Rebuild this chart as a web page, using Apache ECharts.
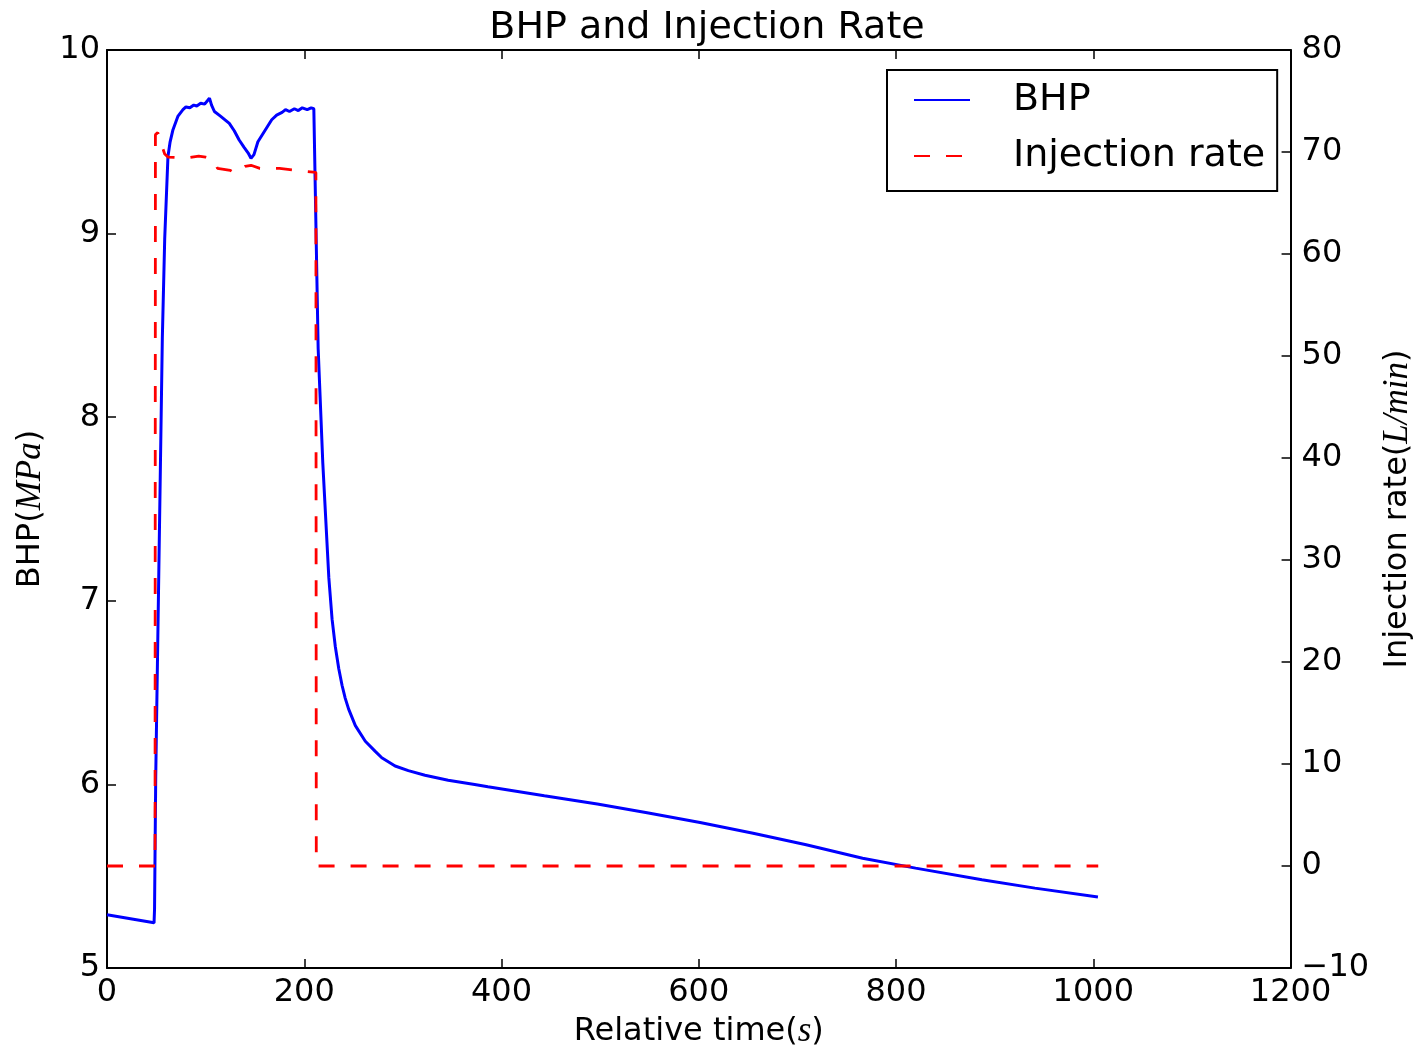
<!DOCTYPE html>
<html>
<head>
<meta charset="utf-8">
<script src="https://cdn.jsdelivr.net/npm/echarts@6/dist/echarts.min.js"></script>
<style>
html,body{margin:0;padding:0;background:#fff;overflow:hidden;}
#chart{width:1423px;height:1054px;}
</style>
</head>
<body>
<div id="chart"></div>
<script>
// BHP (MPa) vs relative time (s)
const bhpTime = [0, 47.7, 48.2, 49.4, 56.1, 58.5, 61.8, 64, 66.9, 72, 77, 80, 84, 88, 91, 95, 99, 102, 103.9, 106, 108.9, 115, 124, 129, 134, 139, 143, 146, 149, 153, 160, 167, 172, 177.5, 181, 185, 190, 194, 198, 203, 207, 209.7, 210.5, 214.1, 218.8, 224.9, 228.2, 231.5, 235, 238.3, 241.5, 245, 251.8, 261.9, 272, 278.6, 292.1, 305.5, 322.4, 345.9, 372.8, 386.2, 443.4, 497.1, 547.6, 601.3, 655.1, 708.9, 766.1, 819.8, 887.1, 940.8, 1004.7];
const bhpValue = [5.29, 5.246, 5.32, 6.04, 8.43, 8.97, 9.42, 9.5, 9.566, 9.64, 9.675, 9.69, 9.685, 9.70, 9.695, 9.71, 9.705, 9.725, 9.738, 9.70, 9.665, 9.64, 9.60, 9.56, 9.51, 9.47, 9.44, 9.41, 9.43, 9.50, 9.56, 9.62, 9.645, 9.66, 9.675, 9.665, 9.68, 9.67, 9.685, 9.675, 9.685, 9.68, 9.675, 8.373, 7.75, 7.126, 6.90, 6.75, 6.63, 6.54, 6.47, 6.41, 6.32, 6.235, 6.18, 6.145, 6.10, 6.075, 6.05, 6.023, 6.0, 5.987, 5.938, 5.893, 5.846, 5.792, 5.734, 5.671, 5.598, 5.544, 5.481, 5.435, 5.387];
// Injection rate (L/min) vs relative time (s)
const rateTime = [0, 48.7, 49.1, 51.5, 55, 58.5, 62, 80, 93, 100, 108, 112, 125, 130, 140, 146, 155, 175, 200, 211.8, 212.2, 1005];
const rateValue = [0, 0, 71.7, 71.9, 70.8, 69.8, 69.5, 69.4, 69.6, 69.5, 69.3, 68.4, 68.2, 67.9, 68.6, 68.7, 68.4, 68.4, 68.1, 68.0, 0, 0];

const xTicks = {min: 0, max: 1200, interval: 200};
const bhpTicks = {min: 5, max: 10, interval: 1};
const rateTicks = {min: -10, max: 80, interval: 10};

const FONT = 'DejaVu Sans';
const ital = {fontFamily: 'Liberation Serif', fontStyle: 'italic', fontSize: 35, color: '#000'};
const axisLine = {show: true, onZero: false, lineStyle: {color: '#000', width: 2}};
const tick = {show: true, inside: true, length: 9, lineStyle: {color: '#000', width: 1.5}};
const labelStyle = {color: '#000', fontSize: 32, fontFamily: FONT};
const plainFmt = v => String(v).replace('-', '\u2212');

const chart = echarts.init(document.getElementById('chart'), null, {renderer: 'canvas', width: 1423, height: 1054});
chart.setOption({
  animation: false,
  backgroundColor: '#fff',
  title: {
    text: 'BHP and Injection Rate',
    left: 702, top: 4, textAlign: 'center',
    textStyle: {fontFamily: FONT, fontSize: 38, fontWeight: 'normal', color: '#000'}
  },
  grid: {left: 107, top: 50, width: 1190, height: 922, containLabel: false},
  legend: {
    left: 887, top: 70, orient: 'vertical',
    padding: [10, 12, 15, 26],
    borderColor: '#000', borderWidth: 2, backgroundColor: '#fff',
    itemWidth: 56, itemHeight: 20, itemGap: 16,
    itemStyle: {opacity: 0},
    textStyle: {fontFamily: FONT, fontSize: 38, color: '#000', lineHeight: 40, padding: [0, 0, 0, 38]},
    data: ['BHP', 'Injection rate']
  },
  xAxis: [{
    type: 'value', ...xTicks,
    name: 'Relative time({i|s})', nameLocation: 'middle', nameGap: 46,
    nameTextStyle: {fontFamily: FONT, fontSize: 32, color: '#000', rich: {i: ital}},
    axisLine, axisTick: tick, splitLine: {show: false},
    axisLabel: {...labelStyle, margin: 9, formatter: plainFmt}
  }, {
    type: 'value', position: 'top', ...xTicks,
    axisLine, axisTick: tick, splitLine: {show: false},
    axisLabel: {show: false}
  }],
  yAxis: [{
    type: 'value', position: 'left', ...bhpTicks,
    name: 'BHP({i|MPa})', nameLocation: 'middle', nameGap: 57, nameRotate: 90,
    nameTextStyle: {fontFamily: FONT, fontSize: 32, color: '#000', rich: {i: ital}},
    axisLine, axisTick: tick, splitLine: {show: false},
    axisLabel: {...labelStyle, margin: 7, formatter: plainFmt}
  }, {
    type: 'value', position: 'right', ...rateTicks,
    name: 'Injection rate({i|L/min})', nameLocation: 'middle', nameGap: 85, nameRotate: 90,
    nameTextStyle: {fontFamily: FONT, fontSize: 32, color: '#000', rich: {i: ital}},
    axisLine, axisTick: tick, splitLine: {show: false},
    axisLabel: {...labelStyle, margin: 11, formatter: plainFmt}
  }],
  series: [{
    name: 'BHP', type: 'line', xAxisIndex: 0, yAxisIndex: 0,
    data: bhpTime.map((t, i) => [t, bhpValue[i]]),
    symbol: 'none', smooth: false,
    lineStyle: {color: '#0000ff', width: 3},
    itemStyle: {color: '#0000ff'}
  }, {
    name: 'Injection rate', type: 'line', xAxisIndex: 0, yAxisIndex: 1,
    data: rateTime.map((t, i) => [t, rateValue[i]]),
    symbol: 'none', smooth: false,
    lineStyle: {color: '#ff0000', width: 2.8, type: [16, 16]},
    itemStyle: {color: '#ff0000'}
  }]
});
</script>
</body>
</html>
